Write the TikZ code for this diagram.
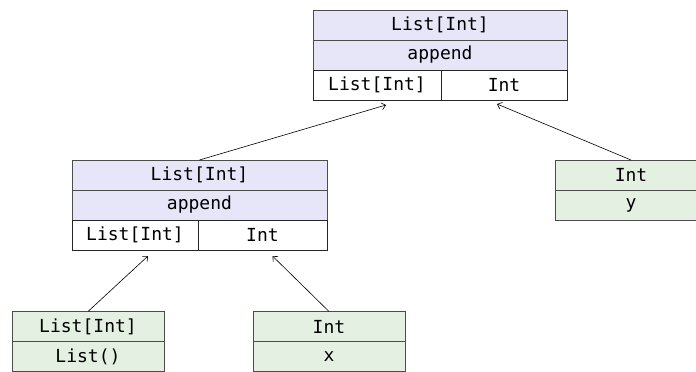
\documentclass[tikz,border=0pt]{standalone}
\usepackage{fontspec}
\usepackage{xcolor}
\usepackage{tikz}
\usetikzlibrary{positioning, arrows.meta}
\newfontfamily\codefont{DejaVu Sans Mono}
\definecolor{typebg}{RGB}{230,230,248}
\definecolor{valbg}{RGB}{228,240,226}

\tikzset{
  cell/.style={draw=black!70, line width=0.9pt, inner sep=0pt, outer sep=0pt,
    minimum height=30pt, font=\codefont\fontsize{18}{21}\selectfont},
  callcell/.style={cell, fill=typebg, minimum width=254pt},
  argcell/.style={cell, fill=white, draw=black!85},
  valcell/.style={cell, fill=valbg, minimum width=152pt},
  link/.style={->, line width=0.6pt}
}

\begin{document}
\begin{tikzpicture}[x=1pt, y=-1pt, >={Straight Barb[length=4pt,width=7pt]}]
  \useasboundingbox (0,0) rectangle (696,372);
  \clip (0,0) rectangle (696,372);

  % 1. Outer append
  \node[callcell, anchor=north west] (topType) at (313,10) {List[Int]};
  \node[callcell, below=0pt of topType] (topName) {append};
  \node[argcell, minimum width=128pt, anchor=north west] (topArgA) at (topName.south west) {List[Int]};
  \node[argcell, minimum width=126pt, right=0pt of topArgA] (topArgB) {Int};

  % 2. Inner append
  \node[callcell, minimum width=255pt, anchor=north west] (midType) at (72,160) {List[Int]};
  \node[callcell, minimum width=255pt, below=0pt of midType] (midName) {append};
  \node[argcell, minimum width=126pt, anchor=north west] (midArgA) at (midName.south west) {List[Int]};
  \node[argcell, minimum width=129pt, right=0pt of midArgA] (midArgB) {Int};

  % 3. Values
  \node[valcell, anchor=north west] (nilType) at (12,311.5) {List[Int]};
  \node[valcell, below=0pt of nilType] (nilVal) {List()};
  \node[valcell, anchor=north west] (xType) at (253,311.5) {Int};
  \node[valcell, below=0pt of xType] (xVal) {x};
  \node[valcell, anchor=north west] (yType) at (555,160) {Int};
  \node[valcell, below=0pt of yType] (yVal) {y};

  % 4. Arguments
  \coordinate (midInA) at ([xshift=13pt, yshift=-6pt]midArgA.south);
  \coordinate (midInB) at ([xshift=10pt, yshift=-6pt]midArgB.south);
  \coordinate (topInA) at ([xshift=9pt, yshift=-5pt]topArgA.south);
  \coordinate (topInB) at ([xshift=-7pt, yshift=-4pt]topArgB.south);
  \draw[link] (nilType.north) -- (midInA);
  \draw[link] (xType.north) -- (midInB);
  \draw[link] (midType.north) -- (topInA);
  \draw[link] (yType.north) -- (topInB);
\end{tikzpicture}
\end{document}
